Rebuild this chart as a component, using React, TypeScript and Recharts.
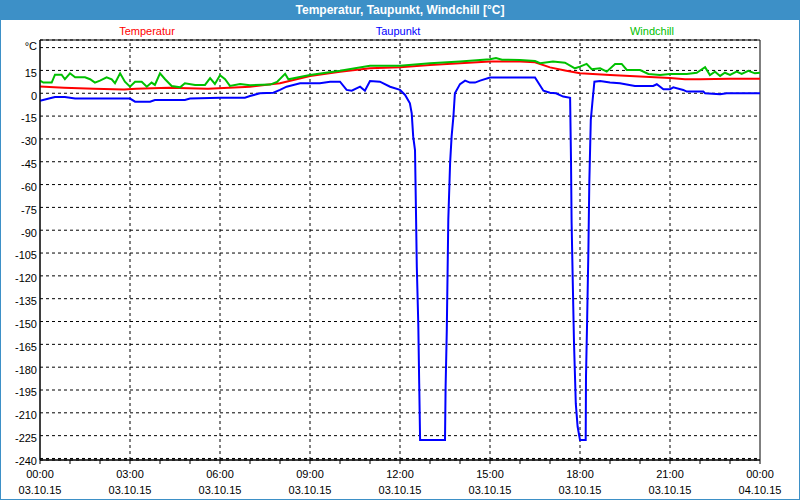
import {
  LineChart,
  Line,
  XAxis,
  YAxis,
  CartesianGrid,
  ReferenceLine,
  ReferenceArea,
} from "recharts";

// Temperatur
const tempHours = [0, 0.8, 1.8, 2.8, 3.2, 4.3, 5.6, 6.3, 7.0, 7.7, 8.0, 9.0, 10.0, 11.0, 12.0, 13.0, 14.0, 15.0, 16.0, 16.5, 17.0, 17.5, 18.0, 19.0, 20.0, 21.0, 21.5, 22.0, 23.0, 24.0];
const tempValues = [4.5, 3.7, 3.0, 2.4, 3.0, 3.7, 3.0, 3.7, 4.3, 5.9, 6.6, 11.4, 14.2, 16.4, 17.1, 18.6, 19.7, 20.8, 20.8, 20.4, 17.0, 15.0, 13.1, 12.0, 11.0, 10.0, 9.2, 9.2, 9.5, 9.6];

// Taupunkt
const dewHours = [0, 0.33, 0.5, 0.83, 1.17, 3.0, 3.17, 3.67, 3.83, 4.83, 5.0, 6.0, 6.83, 7.0, 7.33, 7.78, 8.0, 8.22, 8.67, 9.33, 9.67, 10.0, 10.22, 10.39, 10.67, 10.83, 11.0, 11.33, 11.67, 12.0, 12.17, 12.33, 12.39, 12.44, 12.5, 12.53, 12.56, 12.61, 12.64, 12.67, 13.5, 13.52, 13.56, 13.61, 13.67, 13.72, 13.78, 13.83, 14.0, 14.17, 14.33, 14.5, 14.67, 15.0, 16.5, 16.78, 17.0, 17.2, 17.44, 17.67, 17.7, 17.72, 17.76, 17.8, 17.86, 17.92, 18.0, 18.19, 18.2, 18.24, 18.28, 18.31, 18.36, 18.41, 18.48, 18.67, 19.0, 19.33, 19.83, 20.44, 20.56, 20.78, 21.0, 21.11, 21.44, 21.56, 22.11, 22.17, 22.67, 22.89, 24.0];
const dewValues = [-4.9, -3.3, -2.4, -2.4, -3.5, -3.5, -5.5, -5.5, -4.4, -4.4, -3.5, -2.9, -2.9, -1.8, 0, 0.4, 2.2, 4.3, 6.6, 6.6, 7.6, 7.6, 2.2, 1.7, 4.3, 1.7, 8.1, 7.6, 4.3, 2.2, -1.1, -6.6, -13.1, -28.5, -37.3, -74.5, -113.9, -152, -190.5, -227.8, -227.8, -193, -155.5, -83.2, -45.8, -28.5, -15.4, 0, 6.0, 8.3, 7.0, 7.0, 8.3, 10.4, 10.4, 1.7, 0.4, 0, -2.2, -3.0, -43.8, -85, -125, -164, -204, -219, -227.8, -227.8, -186, -147, -103, -59, -17.5, -6.6, 7.6, 8.0, 7.0, 6.6, 4.8, 4.8, 5.9, 2.6, 2.6, 3.9, 2.2, 1.1, 1.1, 0, -0.7, 0, 0];

// Windchill
const chillHours = [0, 0.11, 0.39, 0.5, 0.72, 0.83, 1.0, 1.17, 1.5, 1.67, 1.83, 2.0, 2.22, 2.39, 2.5, 2.67, 2.83, 3.0, 3.17, 3.39, 3.56, 3.72, 3.83, 4.0, 4.17, 4.39, 4.67, 4.83, 5.17, 5.5, 5.67, 5.83, 6.0, 6.17, 6.33, 6.67, 7.0, 7.67, 7.9, 8.17, 8.28, 9.0, 10.0, 11.0, 12.0, 13.0, 14.0, 15.0, 15.2, 15.4, 16.0, 16.5, 16.67, 17.1, 17.5, 17.83, 18.0, 18.22, 18.39, 18.67, 18.89, 19.17, 19.39, 19.56, 20.0, 20.28, 20.67, 21.0, 21.56, 21.89, 22.17, 22.33, 22.5, 22.67, 22.83, 23.0, 23.22, 23.39, 23.61, 23.83, 24.0];
const chillValues = [8.3, 7.0, 7.0, 12.2, 12.2, 9.2, 13.1, 10.5, 10.5, 9.2, 7.0, 8.3, 10.5, 9.2, 6.6, 13.1, 7.6, 4.3, 7.6, 7.6, 4.3, 7.0, 5.5, 13.1, 9.2, 4.8, 3.9, 6.6, 5.5, 5.5, 9.9, 6.1, 11.8, 9.2, 4.8, 6.1, 5.3, 5.7, 7.5, 12.8, 9.2, 12.0, 14.8, 18.1, 18.1, 19.7, 20.8, 22.3, 23.2, 22.0, 21.9, 21.2, 19.7, 20.8, 20.1, 16.4, 17.5, 19.3, 15.8, 16.4, 14.2, 19.3, 19.3, 15.3, 15.3, 12.7, 12.0, 12.7, 12.7, 13.5, 17.1, 12.0, 14.2, 11.4, 13.5, 12.0, 14.2, 12.7, 14.8, 13.1, 13.5];

const hourTicks = [0, 1, 2, 3, 4, 5, 6, 7, 8, 9, 10, 11, 12, 13, 14, 15, 16, 17, 18, 19, 20, 21, 22, 23, 24];
const majorHours = [0, 3, 6, 9, 12, 15, 18, 21, 24];
const timeLabels = ["00:00", "03:00", "06:00", "09:00", "12:00", "15:00", "18:00", "21:00", "00:00"];
const dateLabels = ["03.10.15", "03.10.15", "03.10.15", "03.10.15", "03.10.15", "03.10.15", "03.10.15", "03.10.15", "04.10.15"];
const gridHours = [3, 6, 9, 12, 15, 18, 21];
const yTicks = [-240, -225, -210, -195, -180, -165, -150, -135, -120, -105, -90, -75, -60, -45, -30, -15, 0, 15, 30];

const FONT = "'Liberation Sans', Arial, sans-serif";
const FRAME = "#3d90c7";

const toPoints = (hours: number[], values: number[]) =>
  hours.map((h, i) => ({ h, v: values[i] }));

const tempData = toPoints(tempHours, tempValues);
const dewData = toPoints(dewHours, dewValues);
const chillData = toPoints(chillHours, chillValues);

const XTick = ({ x, y, payload }: any) => {
  const i = majorHours.indexOf(payload.value);
  if (i < 0) return <g />;
  return (
    <g fontFamily={FONT} fontSize={11} fill="#000">
      <text x={x} y={y + 12} textAnchor="middle">{timeLabels[i]}</text>
      <text x={x} y={y + 28} textAnchor="middle">{dateLabels[i]}</text>
    </g>
  );
};

const YTick = ({ x, y, payload }: any) => {
  const top = payload.value === 30;
  return (
    <text
      x={x}
      y={y + (top ? -2 : 2.5)}
      dy="0.355em"
      textAnchor="end"
      fontFamily={FONT}
      fontSize={11}
      fill="#000"
    >
      {top ? "°C" : payload.value}
    </text>
  );
};

const legend = [
  { label: "Temperatur", color: "#ff0000", center: 147 },
  { label: "Taupunkt", color: "#0000ff", center: 398 },
  { label: "Windchill", color: "#00c000", center: 652 },
];

export default function App() {
  return (
    <div
      style={{
        position: "absolute",
        left: 0,
        top: 0,
        width: 800,
        height: 500,
        background: FRAME,
        fontFamily: FONT,
      }}
    >
      <div
        style={{
          position: "absolute",
          left: 0,
          top: 0,
          width: 800,
          height: 20,
          lineHeight: "20px",
          textAlign: "center",
          color: "#fff",
          fontWeight: "bold",
          fontSize: 12,
        }}
      >
        Temperatur, Taupunkt, Windchill [°C]
      </div>
      <div
        style={{
          position: "absolute",
          left: 1,
          top: 20,
          width: 798,
          height: 479,
          background: "#fff",
        }}
      />
      {legend.map((l) => (
        <div
          key={l.label}
          style={{
            position: "absolute",
            left: l.center - 60,
            width: 120,
            top: 25,
            textAlign: "center",
            fontSize: 11,
            color: l.color,
          }}
        >
          {l.label}
        </div>
      ))}
      <div style={{ position: "absolute", left: 0, top: 0 }}>
        <LineChart
          width={800}
          height={500}
          margin={{ top: 40, right: 40, bottom: 0, left: 0 }}
        >
          <CartesianGrid vertical={false} stroke="#000" strokeDasharray="3 3" />
          {gridHours.map((h) => (
            <ReferenceLine key={h} x={h} stroke="#000" strokeDasharray="3 3" />
          ))}
          <XAxis
            dataKey="h"
            type="number"
            domain={[0, 24]}
            ticks={hourTicks}
            allowDataOverflow
            height={40}
            tickSize={4}
            tickMargin={2}
            axisLine={{ stroke: "#000" }}
            tickLine={{ stroke: "#000" }}
            tick={<XTick />}
            interval={0}
          />
          <YAxis
            type="number"
            domain={[-241, 35]}
            ticks={yTicks}
            allowDataOverflow
            width={40}
            tickSize={0}
            tickMargin={3}
            axisLine={{ stroke: "#000" }}
            tickLine={false}
            tick={<YTick />}
            interval={0}
          />
          <ReferenceArea
            x1={0}
            x2={24}
            y1={-241}
            y2={35}
            fill="none"
            stroke="#000"
            strokeWidth={1}
          />
          <Line
            data={tempData}
            dataKey="v"
            type="linear"
            stroke="#ff0000"
            strokeWidth={2}
            dot={false}
            isAnimationActive={false}
          />
          <Line
            data={dewData}
            dataKey="v"
            type="linear"
            stroke="#0000ff"
            strokeWidth={2}
            dot={false}
            isAnimationActive={false}
          />
          <Line
            data={chillData}
            dataKey="v"
            type="linear"
            stroke="#00c000"
            strokeWidth={2}
            dot={false}
            isAnimationActive={false}
          />
        </LineChart>
      </div>
    </div>
  );
}
